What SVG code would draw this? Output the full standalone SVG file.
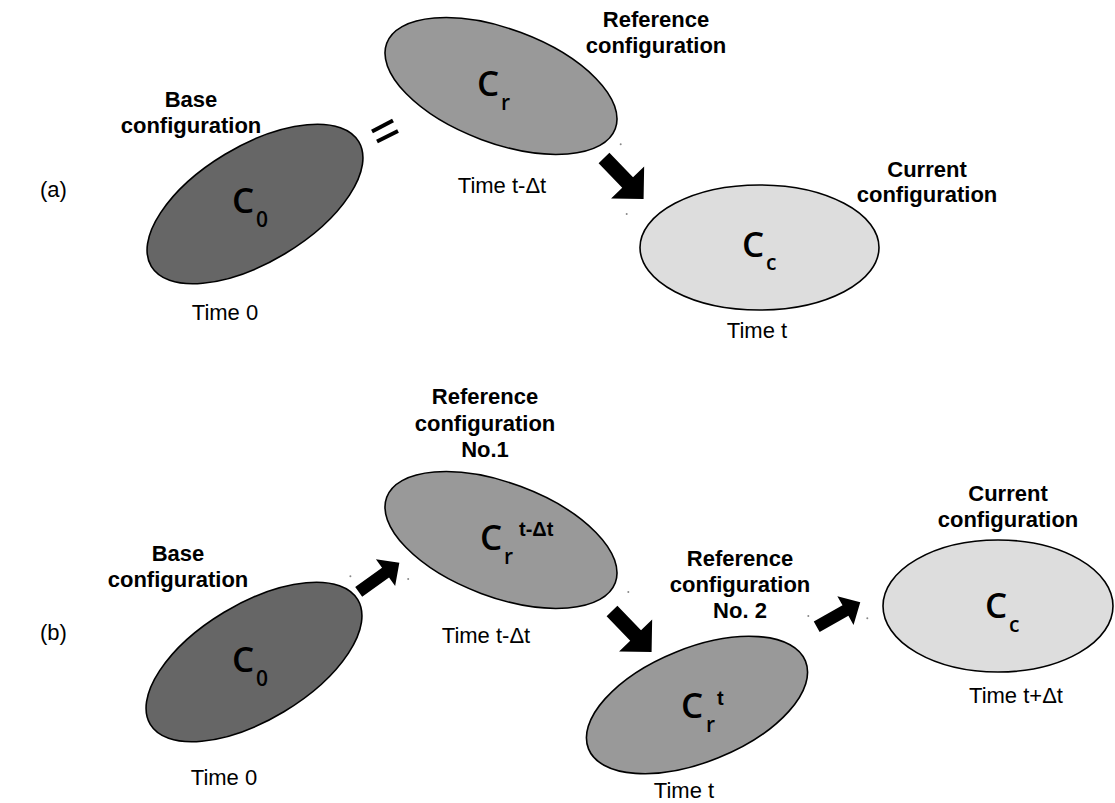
<svg xmlns="http://www.w3.org/2000/svg" width="1115" height="803" viewBox="0 0 1115 803">
<defs>
<style>
.bg{fill:#ffffff}
.e0{fill:#666666;stroke:#000;stroke-width:1.6}
.er{fill:#999999;stroke:#000;stroke-width:1.6}
.ec{fill:#dddddd;stroke:#000;stroke-width:1.6}
.lbl{font-family:"Liberation Sans",Arial,sans-serif;font-weight:bold;font-size:22px;fill:#000;text-anchor:middle}
.tm{font-family:"Liberation Sans",Arial,sans-serif;font-size:22px;fill:#000;text-anchor:middle}
.pt{font-family:"Liberation Sans",Arial,sans-serif;font-size:22px;fill:#000}
.cb{font-family:"Open Sans","Noto Sans",sans-serif;font-weight:600;font-size:35px;fill:#000}
.cs{font-family:"Open Sans","Noto Sans",sans-serif;font-weight:600;font-size:21px;fill:#000}
.sp{font-family:"Liberation Sans",Arial,sans-serif;font-weight:bold;font-size:20px;fill:#000}
.arr{fill:#000}
.dot{fill:#888888}
</style>
<path id="big" d="M0,-7.5 L34,-7.5 L34,-23 L57,0 L34,23 L34,7.5 L0,7.5 Z"/>
<path id="small" d="M0,-6 L33,-6 L33,-16.5 L50,0 L33,16.5 L33,6 L0,6 Z"/>
</defs>
<rect class="bg" x="0" y="0" width="1115" height="803"/>

<text class="pt" x="40" y="197">(a)</text>
<text class="pt" x="40" y="640">(b)</text>

<!-- (a) -->
<g id="a-base">
<ellipse class="e0" cx="0" cy="0" rx="121" ry="58" transform="translate(255,204) rotate(-31)"/>
<text class="cb" x="232" y="213">C</text><text class="cs" x="256" y="227">0</text>
<text class="lbl" x="191" y="107">Base</text>
<text class="lbl" x="191" y="133">configuration</text>
<text class="tm" x="225" y="320">Time 0</text>
</g>
<g id="a-ref">
<ellipse class="er" cx="0" cy="0" rx="122" ry="57" transform="translate(501,86) rotate(20.5)"/>
<text class="cb" x="477" y="96">C</text><text class="cs" x="501" y="110">r</text>
<text class="lbl" x="656" y="27">Reference</text>
<text class="lbl" x="656" y="53">configuration</text>
<text class="tm" x="502" y="193">Time t-Δt</text>
</g>
<g id="a-cur">
<ellipse class="ec" cx="759.5" cy="247.5" rx="119.5" ry="62.5"/>
<text class="cb" x="742" y="257">C</text><text class="cs" x="766" y="270">c</text>
<text class="lbl" x="927" y="177">Current</text>
<text class="lbl" x="927" y="202">configuration</text>
<text class="tm" x="757" y="338">Time t</text>
</g>

<!-- (b) -->
<g id="b-base">
<ellipse class="e0" cx="0" cy="0" rx="121" ry="58" transform="translate(254,662) rotate(-31)"/>
<text class="cb" x="232" y="672">C</text><text class="cs" x="256" y="686">0</text>
<text class="lbl" x="178" y="561">Base</text>
<text class="lbl" x="178" y="587">configuration</text>
<text class="tm" x="224" y="785">Time 0</text>
</g>
<g id="b-ref1">
<ellipse class="er" cx="0" cy="0" rx="122" ry="57" transform="translate(501,540) rotate(20.5)"/>
<text class="cb" x="480" y="550">C</text><text class="cs" x="504" y="564">r</text>
<text class="sp" x="519" y="536">t-Δt</text>
<text class="lbl" x="485" y="404">Reference</text>
<text class="lbl" x="485" y="431">configuration</text>
<text class="lbl" x="485" y="457">No.1</text>
<text class="tm" x="486" y="643">Time t-Δt</text>
</g>
<g id="b-ref2">
<ellipse class="er" cx="0" cy="0" rx="117" ry="57" transform="translate(697,705) rotate(-22)"/>
<text class="cb" x="681" y="718">C</text><text class="cs" x="706" y="732">r</text>
<text class="sp" x="717" y="705">t</text>
<text class="lbl" x="740" y="566">Reference</text>
<text class="lbl" x="740" y="592">configuration</text>
<text class="lbl" x="740" y="618">No. 2</text>
<text class="tm" x="684" y="798">Time t</text>
</g>
<g id="b-cur">
<ellipse class="ec" cx="998" cy="606" rx="115" ry="66"/>
<text class="cb" x="985" y="618">C</text><text class="cs" x="1009" y="632">c</text>
<text class="lbl" x="1008" y="501">Current</text>
<text class="lbl" x="1008" y="527">configuration</text>
<text class="tm" x="1016" y="703">Time t+Δt</text>
</g>

<g id="connectors">
<line x1="372" y1="131.5" x2="393" y2="120.5" stroke="#000" stroke-width="4"/>
<line x1="377" y1="141.5" x2="398" y2="131" stroke="#000" stroke-width="4"/>
<use href="#big" class="arr" transform="translate(604,158) rotate(46)"/>
<use href="#big" class="arr" transform="translate(612,611) rotate(46)"/>
<use href="#small" class="arr" transform="translate(358.7,591.8) rotate(-35.6)"/>
<use href="#small" class="arr" transform="translate(816.7,626.7) rotate(-29.4)"/>
<circle class="dot" cx="620.7" cy="144.3" r="1"/>
<circle class="dot" cx="626.7" cy="214" r="1"/>
<circle class="dot" cx="350.4" cy="576.3" r="1"/>
<circle class="dot" cx="408.2" cy="579" r="1"/>
<circle class="dot" cx="628.3" cy="592" r="1"/>
<circle class="dot" cx="808.3" cy="616" r="1"/>
<circle class="dot" cx="867.3" cy="618.3" r="1"/>
</g>
</svg>
